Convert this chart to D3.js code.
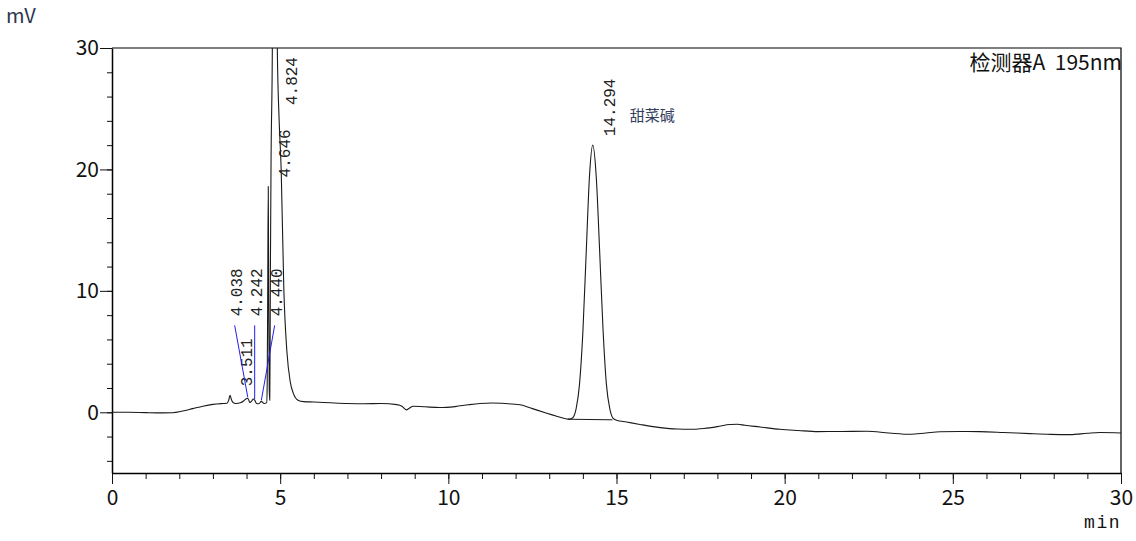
<!DOCTYPE html>
<html>
<head>
<meta charset="utf-8">
<script src="https://cdn.jsdelivr.net/npm/d3@7/dist/d3.min.js"></script>
<style>
	body { margin: 0; background: #fff; }
	svg { display: block; }
	.tick text { font-family: "Noto Sans CJK JP", "Noto Sans", sans-serif; font-size: 21px; fill: #111; }
	.peak-label { font-family: "Liberation Mono", "DejaVu Sans Mono", monospace; font-size: 16px; fill: #222; }
</style>
</head>
<body>
<div id="chart"></div>
<script>
// chromatogram trace (min, mV)
var signalTime = [0, 0.5, 1.0, 1.5, 1.8, 2.1, 2.4, 2.7, 3.0, 3.3, 3.42, 3.47, 3.511, 3.55, 3.6, 3.68, 3.76, 3.84, 3.92, 3.98,
	4.038, 4.10, 4.16, 4.20, 4.242, 4.30, 4.37, 4.44, 4.52, 4.60, 4.615, 4.63, 4.646, 4.66, 4.675, 4.69, 4.70, 4.71, 4.73, 4.767,
	4.80, 4.824, 4.85, 4.88, 4.915, 4.97, 5.03, 5.11, 5.20, 5.30, 5.40, 5.53, 5.70, 6.0, 6.5, 7.0, 7.5, 8.0, 8.47, 8.62,
	8.75, 8.85, 8.95, 9.3, 9.75, 10.2, 10.6, 10.94, 11.3, 11.69, 12.13, 12.5, 12.88, 13.2, 13.52, 13.6, 13.7, 13.8, 13.9, 14.0,
	14.1, 14.2, 14.294, 14.4, 14.5, 14.6, 14.7, 14.8, 14.9, 15.0, 15.3, 15.7, 16.3, 16.8, 17.19, 17.6, 18.0, 18.38, 18.6, 18.82,
	19.27, 19.86, 20.4, 20.99, 21.7, 22.44, 23.1, 23.73, 24.2, 24.62, 25.2, 25.8, 26.5, 27.3, 27.9, 28.49, 29.0, 29.38, 30.0];
var signalMv = [0, 0, -0.03, -0.05, -0.04, 0.1, 0.3, 0.5, 0.65, 0.72, 0.74, 1.0, 1.4, 1.05, 0.8, 0.72, 0.75, 0.8, 0.95, 1.1,
	1.15, 0.8, 0.95, 1.1, 1.0, 0.72, 0.7, 0.9, 0.72, 0.8, 2.5, 10, 18.6, 9, 2, 1.0, 5, 12, 21, 30,
	80, 110, 90, 55, 30, 24, 20, 10, 5, 2.5, 1.5, 1.0, 0.88, 0.85, 0.78, 0.72, 0.7, 0.72, 0.63, 0.5,
	0.2, 0.35, 0.5, 0.45, 0.39, 0.47, 0.62, 0.72, 0.76, 0.72, 0.62, 0.3, -0.03, -0.3, -0.55, -0.56, -0.45, 0.3, 2.3, 6.6,
	13.2, 19.6, 22.0, 19.3, 13.2, 6.8, 2.3, 0.3, -0.5, -0.65, -0.8, -1.0, -1.26, -1.38, -1.4, -1.33, -1.18, -1.0, -0.99, -1.07,
	-1.21, -1.4, -1.5, -1.59, -1.58, -1.56, -1.7, -1.81, -1.7, -1.6, -1.58, -1.59, -1.66, -1.76, -1.82, -1.84, -1.73, -1.67, -1.7];

// integrated peaks
var peakTimes = [3.511, 4.038, 4.242, 4.440, 4.646, 4.824, 14.294];
var peakNames = ["3.511", "4.038", "4.242", "4.440", "4.646", "4.824", "14.294"];
var peakApex = [1.4, 1.15, 1.0, 0.9, 18.6, 110, 22.0];
var peakLeader = [false, true, true, true, false, false, false];
var compoundNames = ["", "", "", "", "", "", "甜菜碱"];

// baseline drawn under 14.294
var baseLineTime = [13.55, 14.88];
var baseLineMv = [-0.57, -0.62];

var xTicksMajor = [0, 5, 10, 15, 20, 25, 30];
var yTicksMajor = [0, 10, 20, 30];
var detectorTitle = "检测器A  195nm";

var W = 1136, H = 541;
var margin = {top: 48, right: 15, bottom: 68, left: 112};
var x = d3.scaleLinear().domain([0, 30]).range([margin.left, W - margin.right]);
var y = d3.scaleLinear().domain([-5, 30]).range([H - margin.bottom, margin.top]);

var svg = d3.select("#chart").append("svg")
	.attr("width", W)
	.attr("height", H);

svg.append("clipPath").attr("id", "plotClip")
	.append("rect")
	.attr("x", x(0)).attr("y", y(30))
	.attr("width", x(30) - x(0)).attr("height", y(-5) - y(30));

// frame top / right
svg.append("path")
	.attr("d", "M" + x(0) + "," + y(30) + "H" + x(30) + "V" + y(-5))
	.attr("fill", "none").attr("stroke", "#000").attr("stroke-width", 1.2);

// x axis, minor then major
svg.append("g")
	.attr("transform", "translate(0," + y(-5) + ")")
	.call(d3.axisBottom(x).tickValues(d3.range(0, 31, 1)).tickSize(6).tickFormat(""))
	.call(function(g) { g.select(".domain").remove(); });
var xAxis = svg.append("g")
	.attr("transform", "translate(0," + y(-5) + ")")
	.call(d3.axisBottom(x).tickValues(xTicksMajor).tickSize(11).tickSizeOuter(0).tickPadding(6).tickFormat(d3.format("d")));
xAxis.select(".domain").attr("stroke-width", 1.5);

// y axis
svg.append("g")
	.attr("transform", "translate(" + x(0) + ",0)")
	.call(d3.axisLeft(y).tickValues(d3.range(-4, 30, 2)).tickSize(5).tickFormat(""))
	.call(function(g) { g.select(".domain").remove(); });
var yAxis = svg.append("g")
	.attr("transform", "translate(" + x(0) + ",0)")
	.call(d3.axisLeft(y).tickValues(yTicksMajor).tickSize(12).tickSizeOuter(0).tickPadding(1).tickFormat(d3.format("d")));
yAxis.select(".domain").attr("stroke-width", 1.5);
svg.selectAll(".tick line").attr("stroke", "#111");

svg.append("text")
	.attr("x", 6).attr("y", 23)
	.style("font-family", "'Noto Sans CJK JP', sans-serif")
	.style("font-size", "20px")
	.attr("fill", "#2b3550")
	.text("mV");

svg.append("text")
	.attr("x", x(30)).attr("y", y(-5) + 55)
	.attr("text-anchor", "end")
	.style("font-family", "'Liberation Mono', monospace")
	.style("font-size", "18px")
	.style("letter-spacing", "1.5px")
	.attr("fill", "#111")
	.text("min");

svg.append("text")
	.attr("x", x(30) + 1).attr("y", y(30) + 22)
	.attr("text-anchor", "end")
	.style("font-family", "'Noto Sans CJK SC', sans-serif")
	.style("font-size", "21px")
	.style("white-space", "pre")
	.attr("fill", "#111")
	.text(detectorTitle);

// trace
var pts = signalTime.map(function(t, i) { return [t, signalMv[i]]; });
var line = d3.line()
	.x(function(d) { return x(d[0]); })
	.y(function(d) { return y(d[1]); })
	.curve(d3.curveMonotoneX);

var plot = svg.append("g").attr("clip-path", "url(#plotClip)");
plot.append("path")
	.datum(pts)
	.attr("d", line)
	.attr("fill", "none")
	.attr("stroke", "#1a1a1a")
	.attr("stroke-width", 1.1);

plot.append("line")
	.attr("x1", x(baseLineTime[0])).attr("y1", y(baseLineMv[0]))
	.attr("x2", x(baseLineTime[1])).attr("y2", y(baseLineMv[1]))
	.attr("stroke", "#1a1a1a").attr("stroke-width", 1);

// peak labels
var peaks = peakTimes.map(function(t, i) {
	return {t: t, name: peakNames[i], apex: peakApex[i], leader: peakLeader[i], compound: compoundNames[i]};
});
var leaderIdx = 0;
peaks.forEach(function(p) {
	var bx, by;
	if (p.leader) {
		var cx = x(4.242) + (leaderIdx - 1) * 20;
		leaderIdx++;
		bx = cx + 7;
		by = y(7.9);
		svg.append("line")
			.attr("x1", cx).attr("y1", by + 9)
			.attr("x2", x(p.t)).attr("y2", y(p.apex) - 1)
			.attr("stroke", "#2020ee").attr("stroke-width", 1);
	} else if (p.apex > 30) {
		bx = x(p.t) + 23;
		by = y(25.3);
	} else {
		bx = x(p.t) + 22;
		by = y(p.apex) - 9;
	}
	svg.append("text")
		.attr("class", "peak-label")
		.attr("transform", "translate(" + bx + "," + by + ") rotate(-90)")
		.text(p.name);
	if (p.compound) {
		svg.append("text")
			.attr("x", bx + 15).attr("y", by - 15)
			.style("font-family", "'Noto Sans CJK SC', sans-serif")
			.style("font-size", "15px")
			.attr("fill", "#34405e")
			.text(p.compound);
	}
});
</script>
</body>
</html>
